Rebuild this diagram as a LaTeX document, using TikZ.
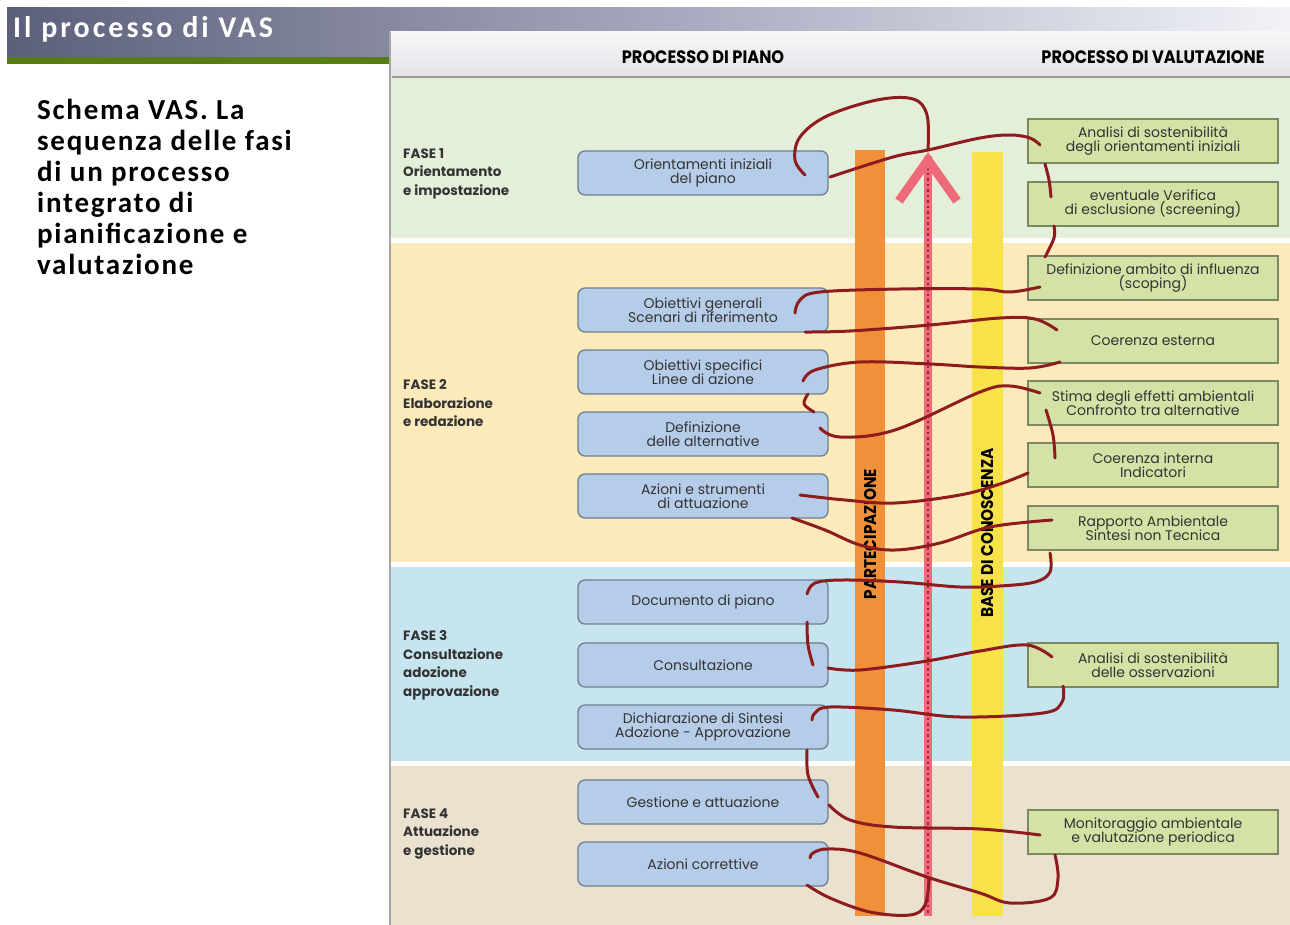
\documentclass[tikz,border=0pt]{standalone}
\usepackage{fontspec}
\usepackage{graphicx}
\setmainfont{Poppins}
\newfontfamily\titlefont{Carlito}[LetterSpace=10]
\newfontfamily\descfont{Carlito}[LetterSpace=6]
\usetikzlibrary{calc}

\definecolor{barL}{HTML}{5C5F7A}
\definecolor{barM}{HTML}{A3A6BC}
\definecolor{barR}{HTML}{F2F3F8}
\definecolor{stripe}{HTML}{567D16}
\definecolor{headtop}{HTML}{F7F7F9}
\definecolor{headbot}{HTML}{E3E3E8}
\definecolor{bandA}{HTML}{E3EFD9}
\definecolor{bandB}{HTML}{FDEABB}
\definecolor{bandC}{HTML}{C7E5EF}
\definecolor{bandD}{HTML}{EBE1CF}
\definecolor{planfill}{HTML}{B6CDE9}
\definecolor{planline}{HTML}{6E7E8E}
\definecolor{valfill}{HTML}{D4E2A6}
\definecolor{valline}{HTML}{7A8963}
\definecolor{orangecol}{HTML}{F0913A}
\definecolor{yellowcol}{HTML}{F8E24A}
\definecolor{pinkc}{HTML}{EF6A78}
\definecolor{dotc}{HTML}{A8203A}
\definecolor{coil}{HTML}{8E1B1D}
\definecolor{txt}{HTML}{333333}

\tikzset{
  planbox/.style={draw=planline, line width=1.3pt, fill=planfill, rounded corners=7pt,
    minimum width=250pt, minimum height=44pt, align=center, text=txt,
    font=\fontsize{14}{14.5}\selectfont, inner sep=2pt},
  valbox/.style={draw=valline, line width=1.3pt, fill=valfill,
    minimum width=250pt, minimum height=44pt, align=center, text=txt,
    font=\fontsize{14}{14.5}\selectfont, inner sep=2pt},
  phase/.style={anchor=west, align=left, inner sep=0pt, text=txt,
    font=\bfseries\fontsize{13.5}{18.5}\selectfont},
  colhead/.style={inner sep=0pt, text=black, font=\bfseries\fontsize{18}{18}\selectfont},
  collabel/.style={inner sep=0pt, rotate=90, text=black, font=\bfseries\fontsize{17}{17}\selectfont},
  coilseg/.style={draw=coil, line width=3pt, line cap=round, line join=round},
}

\begin{document}
\begin{tikzpicture}[x=1pt,y=-1pt]
\useasboundingbox (0,0) rectangle (1290,925);
\fill[white] (0,0) rectangle (1290,925);

% title bar with fading gradient
\shade[left color=barL, right color=barM] (7,8) rectangle (646,57);
\shade[left color=barM, right color=barR] (645,8) rectangle (1290,57);
\fill[stripe] (7,57) rectangle (390,64);
\node[anchor=west, inner sep=0pt, text=white, font=\titlefont\bfseries\fontsize{30}{30}\selectfont] (title) at (13,29) {Il processo di VAS};

% description text
\node[anchor=north west, align=left, inner sep=0pt, text=black,
      font=\descfont\bfseries\fontsize{29}{31}\selectfont] (desc) at (37,99)
  {Schema VAS. La\\sequenza delle fasi\\di un processo\\integrato di\\pianificazione e\\valutazione};

% diagram panel: header and phase bands
\shade[top color=headtop, bottom color=headbot] (390,32) rectangle (1290,77);
\fill[bandA] (390,77) rectangle (1290,238);
\fill[bandB] (390,243) rectangle (1290,562);
\fill[bandC] (390,567) rectangle (1290,761);
\fill[bandD] (390,766) rectangle (1290,925);
\draw[draw=gray!80, line width=2pt] (392,77) -- (1290,77);
\draw[draw=gray!70, line width=1.5pt] (390,32) -- (390,925);

\node[colhead] (hpiano) at (703,57) {\scalebox{0.9}[1]{PROCESSO DI PIANO}};
\node[colhead] (hval) at (1153,57) {\scalebox{0.9}[1]{PROCESSO DI VALUTAZIONE}};

% vertical bars: participation, knowledge base, and the upward arrow
\fill[orangecol] (855,150) rectangle (885,916);
\fill[yellowcol] (972,152) rectangle (1003,916);
\draw[draw=pinkc, line width=8pt] (928,156) -- (928,916);
\draw[draw=dotc, line width=2.5pt, dash pattern=on 2.5pt off 3pt] (928,162) -- (928,914);
\draw[draw=pinkc, line width=9pt, line join=miter] (899,201) -- (928,160) -- (957,201);
\node[collabel] (part) at (870,534) {\scalebox{0.9}[1]{PARTECIPAZIONE}};
\node[collabel] (base) at (987,533) {\scalebox{0.9}[1]{BASE DI CONOSCENZA}};

% phase labels
\node[phase] (f1) at (403,173.5) {FASE 1\\Orientamento\\e impostazione};
\node[phase] (f2) at (403,403.5) {FASE 2\\Elaborazione\\e redazione};
\node[phase] (f3) at (403,665) {FASE 3\\Consultazione\\adozione\\approvazione};
\node[phase] (f4) at (403,833.5) {FASE 4\\Attuazione\\e gestione};

% planning steps
\node[planbox] (L1) at (703,173) {Orientamenti iniziali\\del piano};
\node[planbox] (L2) at (703,310) {Obiettivi generali\\Scenari di riferimento};
\node[planbox] (L3) at (703,372) {Obiettivi specifici\\Linee di azione};
\node[planbox] (L4) at (703,434) {Definizione\\delle alternative};
\node[planbox] (L5) at (703,496) {Azioni e strumenti\\di attuazione};
\node[planbox] (L6) at (703,602) {Documento di piano};
\node[planbox] (L7) at (703,665) {Consultazione};
\node[planbox] (L8) at (703,727) {Dichiarazione di Sintesi\\Adozione - Approvazione};
\node[planbox] (L9) at (703,802) {Gestione e attuazione};
\node[planbox] (L10) at (703,864) {Azioni correttive};

% assessment steps
\node[valbox] (R1) at (1153,141) {Analisi di sostenibilità\\degli orientamenti iniziali};
\node[valbox] (R2) at (1153,204) {eventuale Verifica\\di esclusione (screening)};
\node[valbox] (R3) at (1153,278) {Definizione ambito di influenza\\(scoping)};
\node[valbox] (R4) at (1153,341) {Coerenza esterna};
\node[valbox] (R5) at (1153,403) {Stima degli effetti ambientali\\Confronto tra alternative};
\node[valbox] (R6) at (1153,465) {Coerenza interna\\Indicatori};
\node[valbox] (R7) at (1153,528) {Rapporto Ambientale\\Sintesi non Tecnica};
\node[valbox] (R8) at (1153,665) {Analisi di sostenibilità\\delle osservazioni};
\node[valbox] (R9) at (1153,832) {Monitoraggio ambientale\\e valutazione periodica};

% the coil winding through both processes
\draw[coilseg] plot[smooth, tension=0.6] coordinates {(805,175) (795,160) (800,137) (827,116) (877,100) (913,99) (927,115) (928,150)};
\draw[coilseg] plot[smooth, tension=0.6] coordinates {(830,177) (893,157) (928,150) (980,138) (1010,135) (1030,138) (1040,145)};
\draw[coilseg] plot[smooth, tension=0.6] coordinates {(1045,164) (1049,180) (1051,197)};
\draw[coilseg] plot[smooth, tension=0.6] coordinates {(1054,226) (1054,238) (1045,257)};
\draw[coilseg] plot[smooth, tension=0.6] coordinates {(795,313) (800,300) (820,292) (900,289) (980,289) (1010,292) (1040,287)};
\draw[coilseg] plot[smooth, tension=0.6] coordinates {(805,332) (850,331) (930,325) (1000,318) (1035,319) (1057,330)};
\draw[coilseg] plot[smooth, tension=0.6] coordinates {(803,381) (815,370) (860,362) (930,364) (980,367) (1030,368) (1060,362)};
\draw[coilseg] plot[smooth, tension=0.6] coordinates {(808,394) (804,404) (814,412)};
\draw[coilseg] plot[smooth, tension=0.6] coordinates {(820,428) (840,437) (895,430) (980,392) (1010,386) (1040,393)};
\draw[coilseg] plot[smooth, tension=0.6] coordinates {(1046,410) (1053,435) (1055,458)};
\draw[coilseg] plot[smooth, tension=0.6] coordinates {(800,495) (845,500) (895,503) (960,495) (1000,484) (1028,473)};
\draw[coilseg] plot[smooth, tension=0.6] coordinates {(792,518) (825,530) (860,545) (895,550) (940,543) (990,527) (1052,520)};
\draw[coilseg] plot[smooth, tension=0.6] coordinates {(1050,553) (1050,572) (1035,582) (1000,586) (960,587) (900,582) (843,580) (815,583) (807,594)};
\draw[coilseg] plot[smooth, tension=0.6] coordinates {(807,622) (808,645) (813,665)};
\draw[coilseg] plot[smooth, tension=0.6] coordinates {(828,668) (860,670) (927,661) (980,651) (1027,645) (1052,657)};
\draw[coilseg] plot[smooth, tension=0.6] coordinates {(1063,686) (1062,702) (1043,713) (960,717) (893,710) (830,707) (815,713) (812,720)};
\draw[coilseg] plot[smooth, tension=0.6] coordinates {(807,750) (808,775) (818,797)};
\draw[coilseg] plot[smooth, tension=0.6] coordinates {(829,805) (850,820) (893,827) (980,829) (1040,835)};
\draw[coilseg] plot[smooth, tension=0.6] coordinates {(1055,855) (1058,878) (1050,898) (1010,903) (980,893) (927,877) (860,853) (827,849) (813,853) (810,858)};
\draw[coilseg] plot[smooth, tension=0.6] coordinates {(807,885) (830,898) (870,912) (910,915) (925,905) (929,880)};
\end{tikzpicture}
\end{document}
